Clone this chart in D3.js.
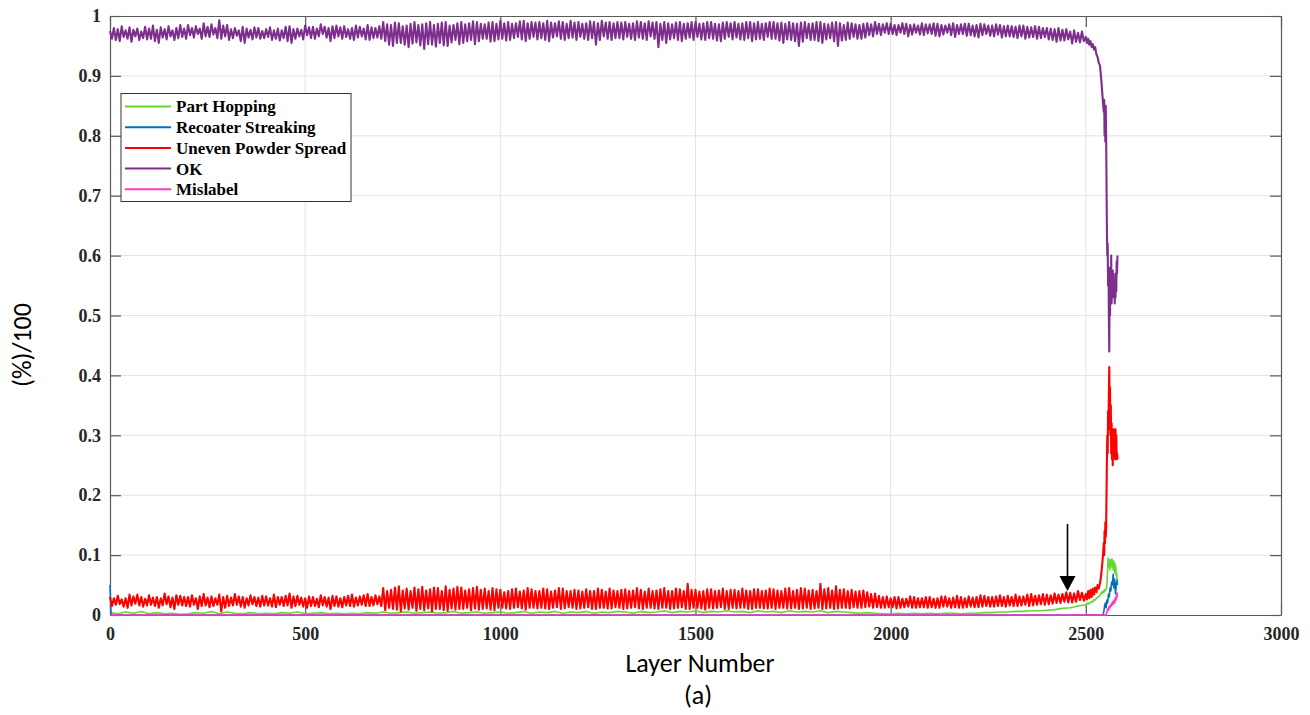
<!DOCTYPE html>
<html><head><meta charset="utf-8">
<script src="https://cdn.jsdelivr.net/npm/d3@7"></script>
<style>body{margin:0;background:#fff;}svg{display:block;}</style>
</head><body>
<svg id="chart" width="1310" height="715"></svg>
<script>
// ---------- DATA ----------
const seriesNames = ["Part Hopping","Recoater Streaking","Uneven Powder Spread","OK","Mislabel"];
const xTicks = [0,500,1000,1500,2000,2500,3000];
const yTicks = [0,0.1,0.2,0.3,0.4,0.5,0.6,0.7,0.8,0.9,1];
const yTickLabels = ["0","0.1","0.2","0.3","0.4","0.5","0.6","0.7","0.8","0.9","1"];

const mainLayers = d3.range(0, 2500, 5);
const greenLayers = d3.range(0, 2500, 20);
const tailLayers = [2500,2503,2506,2509,2512,2515,2518,2521,2524,2527,2530,2533,2536,2538,2540,2542,2544,
  2546,2547,2548,2549,2550,2551,2552,2553,2554,2555,2556,2557,2558,2559,2560,2561,2562,2563,2564,2565,
  2566,2567,2568,2569,2570,2571,2572,2573,2574,2575,2576,2577,2578,2579,2580,2581];

const okMain = [
 .975,.962,.980,.960,.978,.958,.983,.965,.976,.962,.981,.957,.977,.966,.979,.960,.974,.963,.982,.961,
 .979,.962,.984,.958,.977,.955,.981,.964,.978,.961,.983,.966,.976,.960,.980,.963,.985,.965,.979,.962,
 .985,.968,.980,.964,.983,.970,.979,.962,.988,.966,.982,.965,.986,.969,.980,.963,.993,.962,.984,.966,
 .985,.960,.978,.963,.980,.967,.976,.958,.982,.955,.979,.964,.977,.961,.981,.964,.980,.962,.975,.963,
 .978,.965,.981,.960,.976,.962,.979,.959,.976,.963,.982,.958,.983,.955,.978,.962,.979,.966,.977,.961,
 .984,.968,.981,.963,.982,.962,.979,.966,.986,.970,.982,.964,.980,.958,.983,.963,.984,.966,.981,.962,
 .983,.965,.978,.962,.980,.960,.984,.964,.982,.966,.979,.961,.985,.960,.981,.963,.980,.964,.983,.962,
 .990,.958,.986,.952,.985,.950,.989,.955,.988,.955,.983,.952,.984,.948,.987,.954,.990,.956,.985,.951,
 .986,.945,.988,.953,.990,.952,.985,.949,.987,.955,.989,.951,.990,.950,.984,.956,.985,.960,.988,.953,
 .990,.955,.986,.958,.988,.960,.991,.953,.990,.958,.987,.962,.986,.962,.989,.957,.990,.958,.987,.961,
 .992,.962,.988,.959,.990,.960,.987,.963,.988,.965,.991,.961,.992,.958,.988,.962,.990,.965,.989,.961,
 .990,.963,.988,.960,.992,.958,.989,.964,.988,.966,.991,.962,.990,.960,.987,.963,.992,.964,.989,.960,
 .990,.965,.987,.962,.988,.960,.991,.963,.990,.952,.988,.960,.992,.966,.989,.962,.990,.960,.988,.963,
 .990,.963,.989,.961,.990,.965,.987,.962,.988,.960,.991,.964,.990,.962,.988,.960,.991,.966,.989,.962,
 .990,.948,.987,.960,.990,.955,.988,.961,.986,.963,.989,.960,.990,.958,.987,.962,.988,.964,.990,.960,
 .990,.965,.987,.961,.988,.960,.990,.963,.990,.962,.987,.959,.986,.958,.989,.962,.990,.965,.988,.961,
 .990,.964,.987,.961,.988,.960,.990,.963,.990,.958,.988,.961,.990,.962,.987,.960,.988,.965,.990,.962,
 .990,.962,.988,.959,.989,.955,.987,.961,.990,.960,.988,.958,.987,.950,.989,.957,.990,.963,.987,.960,
 .988,.960,.990,.958,.990,.955,.987,.961,.986,.963,.989,.958,.990,.950,.988,.959,.985,.960,.989,.962,
 .988,.965,.986,.962,.985,.962,.987,.964,.988,.968,.986,.966,.990,.970,.987,.968,.986,.972,.988,.970,
 .987,.970,.985,.968,.985,.972,.988,.970,.987,.966,.985,.969,.986,.972,.984,.969,.988,.968,.986,.971,
 .986,.970,.988,.967,.987,.966,.985,.969,.984,.972,.986,.968,.988,.965,.985,.970,.986,.970,.987,.967,
 .987,.968,.984,.966,.985,.964,.987,.968,.986,.970,.984,.967,.984,.966,.986,.969,.985,.964,.983,.966,
 .984,.966,.983,.965,.982,.963,.984,.966,.984,.962,.982,.964,.981,.965,.983,.962,.982,.963,.980,.965,
 .980,.961,.979,.960,.978,.957,.980,.959,.977,.959,.978,.961,.974,.954,.976,.957,.972,.956,.974,.958];
const okTail = [.965,.955,.962,.952,.958,.948,.953,.944,.948,.936,.932,.922,.918,.905,.890,.872,.855,
  .84,.86,.80,.83,.79,.85,.80,.72,.64,.60,
  .62,.55,.58,.50,.44,.56,.50,.58,.53,.60,
  .52,.57,.53,.575,.54,.57,.53,.56,.52,.56,
  .53,.57,.54,.59,.57,.60];

const redMain = [
 .030,.015,.028,.017,.032,.018,.026,.014,.028,.012,.034,.016,.031,.019,.034,.016,.030,.014,.027,.016,
 .033,.017,.029,.015,.030,.012,.028,.016,.036,.018,.031,.013,.029,.010,.033,.017,.032,.016,.030,.015,
 .030,.014,.033,.017,.028,.010,.031,.015,.035,.016,.029,.013,.031,.015,.028,.017,.034,.006,.030,.012,
 .032,.015,.029,.016,.035,.017,.031,.014,.030,.012,.028,.016,.033,.018,.030,.015,.029,.014,.032,.016,
 .031,.016,.028,.014,.034,.013,.030,.017,.030,.015,.032,.016,.036,.012,.031,.015,.032,.017,.029,.014,
 .028,.012,.031,.015,.030,.015,.027,.013,.033,.016,.030,.014,.029,.010,.032,.015,.031,.014,.028,.013,
 .030,.016,.032,.015,.034,.014,.029,.016,.031,.017,.033,.015,.035,.015,.030,.016,.033,.018,.031,.015,
 .045,.008,.040,.012,.042,.010,.046,.009,.048,.006,.041,.011,.044,.009,.040,.012,.046,.007,.043,.010,
 .047,.008,.041,.011,.043,.006,.046,.010,.045,.010,.040,.008,.048,.007,.042,.011,.044,.009,.047,.010,
 .046,.010,.041,.012,.043,.008,.045,.011,.047,.009,.042,.010,.044,.011,.040,.009,.045,.008,.043,.012,
 .042,.012,.038,.011,.040,.010,.043,.012,.044,.013,.039,.011,.041,.009,.045,.012,.043,.012,.040,.011,
 .040,.012,.044,.011,.043,.010,.039,.012,.041,.013,.045,.010,.044,.011,.040,.013,.040,.012,.042,.010,
 .041,.011,.039,.012,.043,.013,.040,.010,.040,.010,.044,.012,.042,.012,.039,.011,.044,.011,.041,.013,
 .040,.012,.042,.010,.043,.011,.040,.012,.041,.013,.045,.011,.042,.010,.039,.012,.044,.012,.040,.011,
 .041,.010,.043,.012,.045,.012,.040,.010,.040,.011,.044,.012,.043,.013,.040,.010,.052,.010,.042,.012,
 .042,.012,.039,.011,.040,.009,.043,.012,.043,.011,.040,.012,.041,.013,.044,.010,.040,.010,.042,.012,
 .042,.011,.040,.012,.044,.012,.041,.010,.040,.010,.043,.012,.043,.012,.040,.011,.041,.011,.044,.012,
 .043,.010,.041,.012,.040,.012,.044,.011,.045,.011,.040,.012,.042,.010,.045,.011,.044,.012,.041,.010,
 .042,.011,.040,.012,.052,.010,.043,.011,.045,.012,.041,.010,.048,.011,.042,.012,.043,.012,.040,.011,
 .042,.013,.039,.012,.040,.012,.041,.013,.038,.014,.035,.012,.036,.013,.032,.012,.030,.012,.031,.013,
 .028,.013,.030,.011,.030,.012,.027,.013,.027,.014,.031,.012,.030,.012,.028,.013,.028,.013,.030,.012,
 .030,.013,.027,.012,.028,.012,.031,.014,.031,.014,.028,.012,.029,.013,.032,.012,.030,.012,.028,.013,
 .031,.014,.029,.013,.030,.013,.033,.014,.032,.015,.030,.014,.030,.014,.031,.015,.033,.015,.030,.014,
 .032,.016,.030,.015,.034,.015,.031,.016,.031,.017,.034,.015,.035,.016,.032,.017,.033,.018,.035,.017,
 .034,.018,.033,.019,.036,.020,.034,.020,.035,.022,.038,.021,.037,.021,.036,.022,.040,.025,.037,.024];
const redTail = [.035,.026,.040,.028,.042,.030,.044,.034,.046,.038,.050,.044,.052,.060,.072,.085,.100,
  .12,.10,.14,.12,.155,.13,.145,.20,.26,.30,
  .27,.34,.31,.37,.414,.33,.38,.30,.35,.27,
  .32,.26,.31,.25,.30,.27,.31,.28,.30,.26,
  .31,.27,.30,.26,.27,.26];

const greenMain = [
 .004,.002,.005,.003,.006,.002,.004,.002,.003,.001,
 .002,.004,.003,.006,.002,.005,.003,.002,.004,.002,
 .003,.002,.004,.003,.005,.002,.003,.004,.002,.003,
 .002,.003,.002,.004,.003,.005,.003,.004,.005,.003,
 .004,.005,.003,.004,.006,.003,.004,.005,.003,.004,
 .005,.003,.004,.006,.003,.005,.004,.006,.003,.005,
 .004,.006,.003,.005,.004,.006,.005,.003,.006,.004,
 .005,.007,.004,.006,.005,.007,.004,.006,.005,.007,
 .005,.006,.004,.007,.005,.006,.004,.007,.005,.006,
 .005,.007,.004,.006,.005,.004,.003,.004,.003,.002,
 .002,.003,.002,.003,.002,.003,.002,.003,.003,.002,
 .003,.003,.004,.004,.005,.005,.006,.006,.007,.007,
 .008,.009,.011,.012,.015];
const greenTail = [.017,.020,.018,.021,.020,.023,.022,.026,.025,.028,.030,.030,.033,.035,.038,.036,.040,
  .038,.041,.042,.040,.043,.041,.044,.045,.050,.065,
  .080,.095,.085,.093,.080,.090,.075,.092,.080,.090,
  .085,.094,.080,.088,.075,.090,.080,.088,.070,.085,
  .072,.080,.065,.070,.060,.055];

const blueLayers = [0,1,2,3,2544,2546,2548,2550,2552,2554,2556,2558,2560,2562,2564,2566,2568,2570,2572,2574,2576,2578,2580,2581];
const blueValues = [.05,.03,.01,0,0,.005,.015,.02,.012,.025,.02,.035,.03,.045,.04,.055,.05,.068,.045,.06,.035,.05,.058,.05];

const pinkLayers = [0,2552,2554,2556,2558,2560,2562,2564,2566,2568,2570,2572,2574,2576,2578,2580,2581];
const pinkValues = [0,0,.005,.01,.008,.015,.012,.018,.015,.022,.018,.025,.02,.03,.025,.037,.03];

const colors = ["#66d832","#0072bd","#ff0000","#7e2f8e","#ff3cbe"];
const arrowLayer = 2453, arrowTop = 0.152, arrowTip = 0.04;

// ---------- BUILD ----------
function zip(xs, ys){ return xs.map((x,i)=>({x:x, y:ys[i]})); }
const series = [
  zip(greenLayers.concat(tailLayers), greenMain.concat(greenTail)),
  zip(blueLayers, blueValues),
  zip(mainLayers.concat(tailLayers), redMain.concat(redTail)),
  zip(mainLayers.concat(tailLayers), okMain.concat(okTail)),
  zip(pinkLayers, pinkValues)
];

const svg = d3.select("#chart");
const L = 110, R = 1281, T = 16, B = 615;
const x = d3.scaleLinear().domain([0,3000]).range([L,R]);
const y = d3.scaleLinear().domain([0,1]).range([B,T]);

// grid
svg.append("g").selectAll("line").data(xTicks.slice(1,-1)).join("line")
  .attr("x1",d=>x(d)).attr("x2",d=>x(d)).attr("y1",T).attr("y2",B)
  .attr("stroke","#e3e3e3").attr("stroke-width",1);
svg.append("g").selectAll("line").data(yTicks.slice(1,-1)).join("line")
  .attr("y1",d=>y(d)).attr("y2",d=>y(d)).attr("x1",L).attr("x2",R)
  .attr("stroke","#e3e3e3").attr("stroke-width",1);

// axes (MATLAB style: ticks inside, box)
const tickFont = "'Liberation Serif','Times New Roman',serif";
const xAxis = svg.append("g").attr("transform",`translate(0,${B})`)
  .call(d3.axisBottom(x).tickValues(xTicks).tickFormat(d3.format("d")).tickSizeInner(-11).tickSizeOuter(0).tickPadding(8));
const yAxis = svg.append("g").attr("transform",`translate(${L},0)`)
  .call(d3.axisLeft(y).tickValues(yTicks).tickFormat((d,i)=>yTickLabels[i]).tickSizeInner(-11).tickSizeOuter(0).tickPadding(9));
const xTop = svg.append("g").attr("transform",`translate(0,${T})`)
  .call(d3.axisTop(x).tickValues(xTicks).tickFormat("").tickSizeInner(-11).tickSizeOuter(0));
const yRight = svg.append("g").attr("transform",`translate(${R},0)`)
  .call(d3.axisRight(y).tickValues(yTicks).tickFormat("").tickSizeInner(-11).tickSizeOuter(0));
[xAxis,yAxis,xTop,yRight].forEach(g=>{
  g.selectAll("path").attr("stroke","#5a5a5a").attr("stroke-width",1.2);
  g.selectAll("line").attr("stroke","#5a5a5a").attr("stroke-width",1.2);
  g.selectAll("text").attr("font-family",tickFont).attr("font-weight","bold").attr("font-size","18px").attr("fill","#262626");
});
xAxis.selectAll("text").attr("dy","0.95em");

// lines
const line = d3.line().x(d=>x(d.x)).y(d=>y(d.y));
svg.append("g").selectAll("path").data(series).join("path")
  .attr("d",line).attr("fill","none")
  .attr("stroke",(d,i)=>colors[i])
  .attr("stroke-width",(d,i)=> (i===2||i===3)?2.1:1.6)
  .attr("stroke-linejoin","round");

// arrow annotation
const ax = x(arrowLayer);
svg.append("line").attr("x1",ax).attr("x2",ax).attr("y1",y(arrowTop)).attr("y2",y(arrowTip)-12)
  .attr("stroke","#000").attr("stroke-width",1.6);
svg.append("path")
  .attr("d",`M${ax-8},${y(arrowTip)-15} L${ax+8},${y(arrowTip)-15} L${ax},${y(arrowTip)} Z`)
  .attr("fill","#000");

// legend
const lg = svg.append("g");
lg.append("rect").attr("x",121).attr("y",93.5).attr("width",230).attr("height",108)
  .attr("fill","#fff").attr("stroke","#333").attr("stroke-width",1);
seriesNames.forEach((n,i)=>{
  const yy = 106.5 + i*20.7;
  lg.append("line").attr("x1",125).attr("x2",171).attr("y1",yy).attr("y2",yy)
    .attr("stroke",colors[i]).attr("stroke-width",2);
  lg.append("text").attr("x",176).attr("y",yy).attr("dy","0.35em")
    .attr("font-family",tickFont).attr("font-weight","bold").attr("font-size","17px")
    .attr("fill","#000").text(n);
});

// axis titles
const titleFont = "Carlito,Calibri,Lato,'Open Sans',sans-serif";
svg.append("text").attr("x",700).attr("y",672).attr("text-anchor","middle")
  .attr("font-family",titleFont).attr("font-size","26px").attr("fill","#000").text("Layer Number");
svg.append("text").attr("x",698).attr("y",704).attr("text-anchor","middle")
  .attr("font-family",titleFont).attr("font-size","26px").attr("fill","#000").text("(a)");
svg.append("text").attr("transform","translate(31,345) rotate(-90)").attr("text-anchor","middle")
  .attr("font-family",titleFont).attr("font-size","26px").attr("fill","#000").text("(%)/100");
</script>
</body></html>
